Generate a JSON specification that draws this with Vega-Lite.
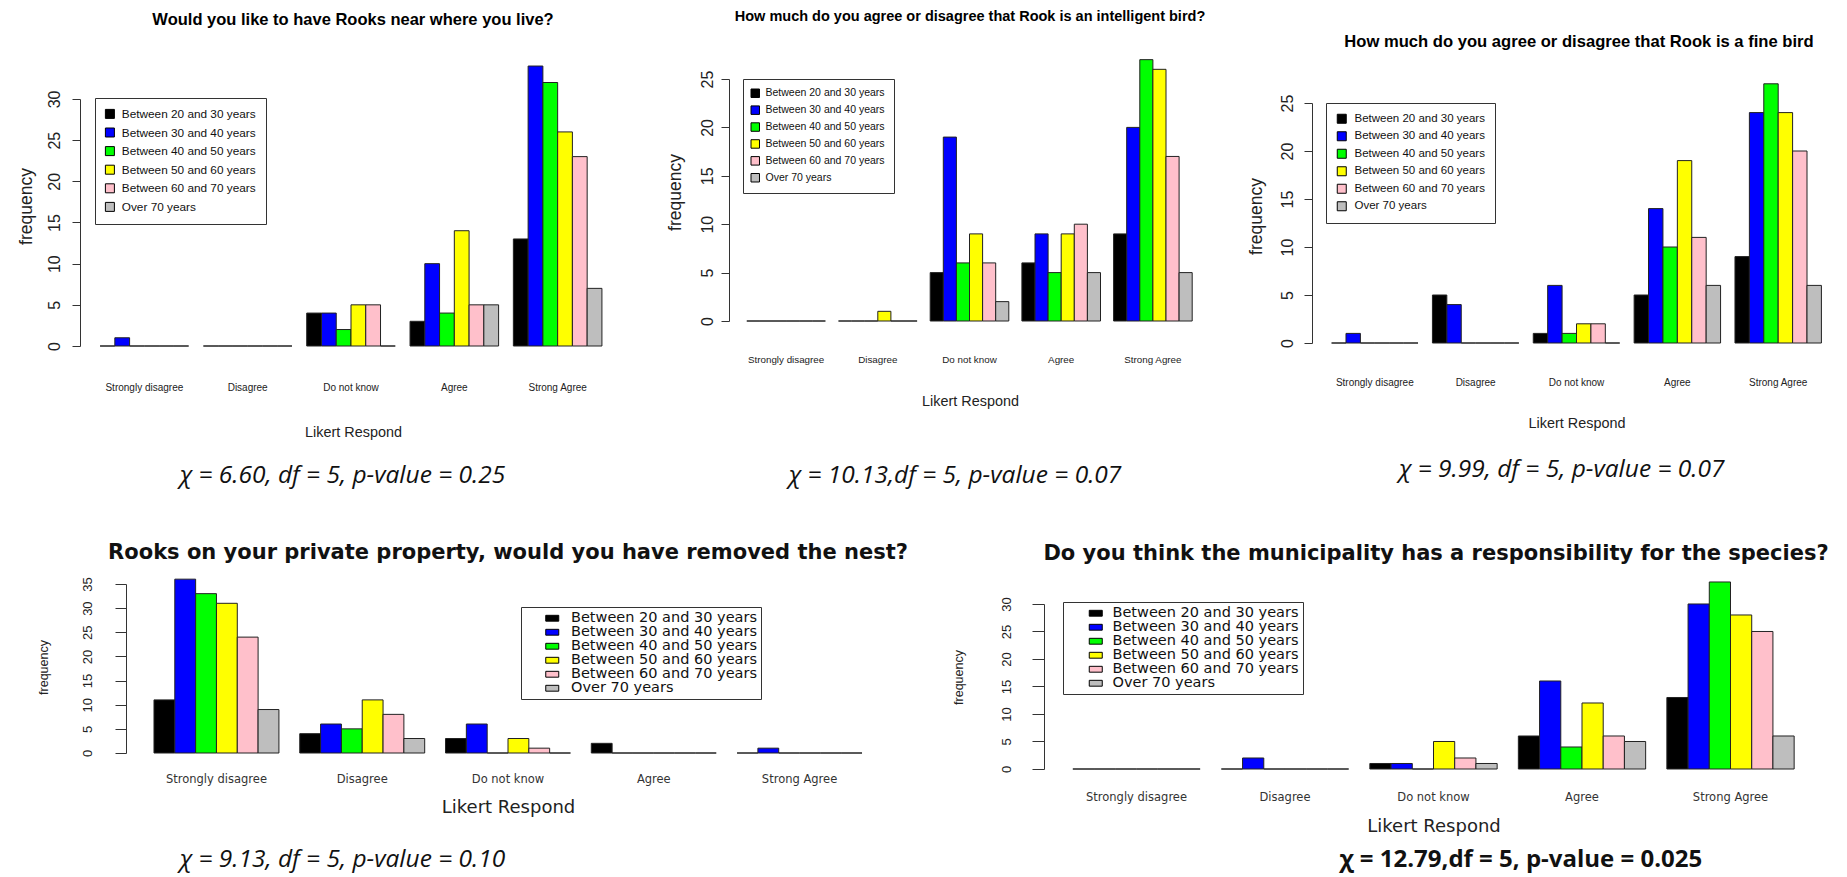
{
"$schema": "https://vega.github.io/schema/vega-lite/v6.json",
"background": "white",
"padding": {"left": 17, "top": 8, "right": 0, "bottom": 4},
"config": {"view": {"stroke": null}, "axis": {"grid": false}},
"datasets": {
"p1": [
{"response":"Strongly disagree","age":"Between 20 and 30 years","count":0},{"response":"Strongly disagree","age":"Between 30 and 40 years","count":1},{"response":"Strongly disagree","age":"Between 40 and 50 years","count":0},{"response":"Strongly disagree","age":"Between 50 and 60 years","count":0},{"response":"Strongly disagree","age":"Between 60 and 70 years","count":0},{"response":"Strongly disagree","age":"Over 70 years","count":0},
{"response":"Disagree","age":"Between 20 and 30 years","count":0},{"response":"Disagree","age":"Between 30 and 40 years","count":0},{"response":"Disagree","age":"Between 40 and 50 years","count":0},{"response":"Disagree","age":"Between 50 and 60 years","count":0},{"response":"Disagree","age":"Between 60 and 70 years","count":0},{"response":"Disagree","age":"Over 70 years","count":0},
{"response":"Do not know","age":"Between 20 and 30 years","count":4},{"response":"Do not know","age":"Between 30 and 40 years","count":4},{"response":"Do not know","age":"Between 40 and 50 years","count":2},{"response":"Do not know","age":"Between 50 and 60 years","count":5},{"response":"Do not know","age":"Between 60 and 70 years","count":5},{"response":"Do not know","age":"Over 70 years","count":0},
{"response":"Agree","age":"Between 20 and 30 years","count":3},{"response":"Agree","age":"Between 30 and 40 years","count":10},{"response":"Agree","age":"Between 40 and 50 years","count":4},{"response":"Agree","age":"Between 50 and 60 years","count":14},{"response":"Agree","age":"Between 60 and 70 years","count":5},{"response":"Agree","age":"Over 70 years","count":5},
{"response":"Strong Agree","age":"Between 20 and 30 years","count":13},{"response":"Strong Agree","age":"Between 30 and 40 years","count":34},{"response":"Strong Agree","age":"Between 40 and 50 years","count":32},{"response":"Strong Agree","age":"Between 50 and 60 years","count":26},{"response":"Strong Agree","age":"Between 60 and 70 years","count":23},{"response":"Strong Agree","age":"Over 70 years","count":7}
],
"p2": [
{"response":"Strongly disagree","age":"Between 20 and 30 years","count":0},{"response":"Strongly disagree","age":"Between 30 and 40 years","count":0},{"response":"Strongly disagree","age":"Between 40 and 50 years","count":0},{"response":"Strongly disagree","age":"Between 50 and 60 years","count":0},{"response":"Strongly disagree","age":"Between 60 and 70 years","count":0},{"response":"Strongly disagree","age":"Over 70 years","count":0},
{"response":"Disagree","age":"Between 20 and 30 years","count":0},{"response":"Disagree","age":"Between 30 and 40 years","count":0},{"response":"Disagree","age":"Between 40 and 50 years","count":0},{"response":"Disagree","age":"Between 50 and 60 years","count":1},{"response":"Disagree","age":"Between 60 and 70 years","count":0},{"response":"Disagree","age":"Over 70 years","count":0},
{"response":"Do not know","age":"Between 20 and 30 years","count":5},{"response":"Do not know","age":"Between 30 and 40 years","count":19},{"response":"Do not know","age":"Between 40 and 50 years","count":6},{"response":"Do not know","age":"Between 50 and 60 years","count":9},{"response":"Do not know","age":"Between 60 and 70 years","count":6},{"response":"Do not know","age":"Over 70 years","count":2},
{"response":"Agree","age":"Between 20 and 30 years","count":6},{"response":"Agree","age":"Between 30 and 40 years","count":9},{"response":"Agree","age":"Between 40 and 50 years","count":5},{"response":"Agree","age":"Between 50 and 60 years","count":9},{"response":"Agree","age":"Between 60 and 70 years","count":10},{"response":"Agree","age":"Over 70 years","count":5},
{"response":"Strong Agree","age":"Between 20 and 30 years","count":9},{"response":"Strong Agree","age":"Between 30 and 40 years","count":20},{"response":"Strong Agree","age":"Between 40 and 50 years","count":27},{"response":"Strong Agree","age":"Between 50 and 60 years","count":26},{"response":"Strong Agree","age":"Between 60 and 70 years","count":17},{"response":"Strong Agree","age":"Over 70 years","count":5}
],
"p3": [
{"response":"Strongly disagree","age":"Between 20 and 30 years","count":0},{"response":"Strongly disagree","age":"Between 30 and 40 years","count":1},{"response":"Strongly disagree","age":"Between 40 and 50 years","count":0},{"response":"Strongly disagree","age":"Between 50 and 60 years","count":0},{"response":"Strongly disagree","age":"Between 60 and 70 years","count":0},{"response":"Strongly disagree","age":"Over 70 years","count":0},
{"response":"Disagree","age":"Between 20 and 30 years","count":5},{"response":"Disagree","age":"Between 30 and 40 years","count":4},{"response":"Disagree","age":"Between 40 and 50 years","count":0},{"response":"Disagree","age":"Between 50 and 60 years","count":0},{"response":"Disagree","age":"Between 60 and 70 years","count":0},{"response":"Disagree","age":"Over 70 years","count":0},
{"response":"Do not know","age":"Between 20 and 30 years","count":1},{"response":"Do not know","age":"Between 30 and 40 years","count":6},{"response":"Do not know","age":"Between 40 and 50 years","count":1},{"response":"Do not know","age":"Between 50 and 60 years","count":2},{"response":"Do not know","age":"Between 60 and 70 years","count":2},{"response":"Do not know","age":"Over 70 years","count":0},
{"response":"Agree","age":"Between 20 and 30 years","count":5},{"response":"Agree","age":"Between 30 and 40 years","count":14},{"response":"Agree","age":"Between 40 and 50 years","count":10},{"response":"Agree","age":"Between 50 and 60 years","count":19},{"response":"Agree","age":"Between 60 and 70 years","count":11},{"response":"Agree","age":"Over 70 years","count":6},
{"response":"Strong Agree","age":"Between 20 and 30 years","count":9},{"response":"Strong Agree","age":"Between 30 and 40 years","count":24},{"response":"Strong Agree","age":"Between 40 and 50 years","count":27},{"response":"Strong Agree","age":"Between 50 and 60 years","count":24},{"response":"Strong Agree","age":"Between 60 and 70 years","count":20},{"response":"Strong Agree","age":"Over 70 years","count":6}
],
"p4": [
{"response":"Strongly disagree","age":"Between 20 and 30 years","count":11},{"response":"Strongly disagree","age":"Between 30 and 40 years","count":36},{"response":"Strongly disagree","age":"Between 40 and 50 years","count":33},{"response":"Strongly disagree","age":"Between 50 and 60 years","count":31},{"response":"Strongly disagree","age":"Between 60 and 70 years","count":24},{"response":"Strongly disagree","age":"Over 70 years","count":9},
{"response":"Disagree","age":"Between 20 and 30 years","count":4},{"response":"Disagree","age":"Between 30 and 40 years","count":6},{"response":"Disagree","age":"Between 40 and 50 years","count":5},{"response":"Disagree","age":"Between 50 and 60 years","count":11},{"response":"Disagree","age":"Between 60 and 70 years","count":8},{"response":"Disagree","age":"Over 70 years","count":3},
{"response":"Do not know","age":"Between 20 and 30 years","count":3},{"response":"Do not know","age":"Between 30 and 40 years","count":6},{"response":"Do not know","age":"Between 40 and 50 years","count":0},{"response":"Do not know","age":"Between 50 and 60 years","count":3},{"response":"Do not know","age":"Between 60 and 70 years","count":1},{"response":"Do not know","age":"Over 70 years","count":0},
{"response":"Agree","age":"Between 20 and 30 years","count":2},{"response":"Agree","age":"Between 30 and 40 years","count":0},{"response":"Agree","age":"Between 40 and 50 years","count":0},{"response":"Agree","age":"Between 50 and 60 years","count":0},{"response":"Agree","age":"Between 60 and 70 years","count":0},{"response":"Agree","age":"Over 70 years","count":0},
{"response":"Strong Agree","age":"Between 20 and 30 years","count":0},{"response":"Strong Agree","age":"Between 30 and 40 years","count":1},{"response":"Strong Agree","age":"Between 40 and 50 years","count":0},{"response":"Strong Agree","age":"Between 50 and 60 years","count":0},{"response":"Strong Agree","age":"Between 60 and 70 years","count":0},{"response":"Strong Agree","age":"Over 70 years","count":0}
],
"p5": [
{"response":"Strongly disagree","age":"Between 20 and 30 years","count":0},{"response":"Strongly disagree","age":"Between 30 and 40 years","count":0},{"response":"Strongly disagree","age":"Between 40 and 50 years","count":0},{"response":"Strongly disagree","age":"Between 50 and 60 years","count":0},{"response":"Strongly disagree","age":"Between 60 and 70 years","count":0},{"response":"Strongly disagree","age":"Over 70 years","count":0},
{"response":"Disagree","age":"Between 20 and 30 years","count":0},{"response":"Disagree","age":"Between 30 and 40 years","count":2},{"response":"Disagree","age":"Between 40 and 50 years","count":0},{"response":"Disagree","age":"Between 50 and 60 years","count":0},{"response":"Disagree","age":"Between 60 and 70 years","count":0},{"response":"Disagree","age":"Over 70 years","count":0},
{"response":"Do not know","age":"Between 20 and 30 years","count":1},{"response":"Do not know","age":"Between 30 and 40 years","count":1},{"response":"Do not know","age":"Between 40 and 50 years","count":0},{"response":"Do not know","age":"Between 50 and 60 years","count":5},{"response":"Do not know","age":"Between 60 and 70 years","count":2},{"response":"Do not know","age":"Over 70 years","count":1},
{"response":"Agree","age":"Between 20 and 30 years","count":6},{"response":"Agree","age":"Between 30 and 40 years","count":16},{"response":"Agree","age":"Between 40 and 50 years","count":4},{"response":"Agree","age":"Between 50 and 60 years","count":12},{"response":"Agree","age":"Between 60 and 70 years","count":6},{"response":"Agree","age":"Over 70 years","count":5},
{"response":"Strong Agree","age":"Between 20 and 30 years","count":13},{"response":"Strong Agree","age":"Between 30 and 40 years","count":30},{"response":"Strong Agree","age":"Between 40 and 50 years","count":34},{"response":"Strong Agree","age":"Between 50 and 60 years","count":28},{"response":"Strong Agree","age":"Between 60 and 70 years","count":25},{"response":"Strong Agree","age":"Over 70 years","count":6}
]
},
"spacing": 53,
"resolve": {"scale": {"color": "independent", "x": "independent", "y": "independent", "xOffset": "independent"}, "legend": {"color": "independent"}},
"vconcat": [
{
"hconcat": [
{
"title": {"text": "χ = 6.60, df = 5, p-value = 0.25", "orient": "bottom", "anchor": "middle", "dx": 14, "offset": 25.5, "font": "Open Sans", "fontSize": 24.5, "fontStyle": "italic", "fontWeight": "normal", "color": "#111"},
"resolve": {"scale": {"color": "independent", "x": "independent", "y": "independent", "xOffset": "independent"}, "legend": {"color": "independent"}},
"vconcat": [{
"width": 560, "height": 291,
"title": {"text": "Would you like to have Rooks near where you live?", "frame": "group", "anchor": "middle", "dx": -7, "offset": 26.75, "font": "Liberation Sans", "fontSize": 16.5, "fontWeight": "bold", "color": "#000"},
"data": {"name": "p1"},
"mark": {"type": "bar", "stroke": "#222", "strokeWidth": 1},
"encoding": {
"x": {"field": "response", "type": "nominal", "sort": ["Strongly disagree","Disagree","Do not know","Agree","Strong Agree"], "scale": {"paddingInner": 0.142857, "paddingOuter": 0.2814, "align": 0.3452},
"axis": {"title": "Likert Respond", "labelAngle": 0, "domain": false, "ticks": false, "tickSize": 0, "labelPadding": 41, "labelBaseline": "middle", "labelFont": "Liberation Sans", "labelFontSize": 10, "labelColor": "#222", "titleFont": "Liberation Sans", "titleFontSize": 14.4, "titleFontWeight": "normal", "titleColor": "#222", "titleX": 273, "titleY": 86, "titleBaseline": "middle", "titleAlign": "center"}},
"xOffset": {"field": "age", "type": "nominal", "sort": ["Between 20 and 30 years","Between 30 and 40 years","Between 40 and 50 years","Between 50 and 60 years","Between 60 and 70 years","Over 70 years"], "scale": {"paddingInner": 0, "paddingOuter": 0}},
"y": {"field": "count", "type": "quantitative", "stack": null, "scale": {"domain": [0, 35.34], "nice": false},
"axis": {"title": "frequency", "values": [0,5,10,15,20,25,30], "grid": false, "domainDash": [247, 1000], "domainColor": "#333", "tickColor": "#333", "tickSize": 8, "labelAngle": -90, "labelAlign": "center", "labelBaseline": "middle", "labelPadding": 18, "labelFont": "Liberation Sans", "labelFontSize": 16, "labelColor": "#222", "labelOverlap": false, "labelFlush": false, "titleFont": "Liberation Sans", "titleFontSize": 17.5, "titleFontWeight": "normal", "titleColor": "#222", "titleAngle": -90, "titleX": -54, "titleY": 151, "titleBaseline": "middle", "titleAlign": "center"}},
"color": {"field": "age", "type": "nominal", "scale": {"domain": ["Between 20 and 30 years","Between 30 and 40 years","Between 40 and 50 years","Between 50 and 60 years","Between 60 and 70 years","Over 70 years"], "range": ["#000000","#0000FF","#00FF00","#FFFF00","#FFC0CB","#BEBEBE"]},
"legend": {"title": null, "orient": "none", "legendX": 15, "legendY": 43, "labelFont": "Liberation Sans", "labelFontSize": 11.8, "labelColor": "#111", "labelLimit": 0, "symbolType": "square", "symbolSize": 81, "symbolStrokeColor": "#000", "symbolStrokeWidth": 1, "strokeColor": "#333", "fillColor": "white", "padding": 10, "rowPadding": 4.6, "symbolOffset": -1, "labelOffset": 6}}
}
}]
},
{
"title": {"text": "χ = 10.13,df = 5, p-value = 0.07", "orient": "bottom", "anchor": "middle", "dx": 11.5, "offset": 56.5, "font": "Open Sans", "fontSize": 24.5, "fontStyle": "italic", "fontWeight": "normal", "color": "#111"},
"resolve": {"scale": {"color": "independent", "x": "independent", "y": "independent", "xOffset": "independent"}, "legend": {"color": "independent"}},
"vconcat": [{
"width": 492, "height": 266,
"title": {"text": "How much do you agree or disagree that Rook is an intelligent bird?", "frame": "group", "anchor": "middle", "dx": -5, "offset": 30.75, "font": "Liberation Sans", "fontSize": 14.5, "fontWeight": "bold", "color": "#000"},
"data": {"name": "p2"},
"mark": {"type": "bar", "stroke": "#222", "strokeWidth": 1},
"encoding": {
"x": {"field": "response", "type": "nominal", "sort": ["Strongly disagree","Disagree","Do not know","Agree","Strong Agree"], "scale": {"paddingInner": 0.142857, "paddingOuter": 0.2541, "align": 0.382},
"axis": {"title": "Likert Respond", "labelAngle": 0, "domain": false, "ticks": false, "tickSize": 0, "labelPadding": 38, "labelBaseline": "middle", "labelFont": "Liberation Sans", "labelFontSize": 9.8, "labelColor": "#222", "titleFont": "Liberation Sans", "titleFontSize": 14.4, "titleFontWeight": "normal", "titleColor": "#222", "titleX": 241, "titleY": 80, "titleBaseline": "middle", "titleAlign": "center"}},
"xOffset": {"field": "age", "type": "nominal", "sort": ["Between 20 and 30 years","Between 30 and 40 years","Between 40 and 50 years","Between 50 and 60 years","Between 60 and 70 years","Over 70 years"], "scale": {"paddingInner": 0, "paddingOuter": 0}},
"y": {"field": "count", "type": "quantitative", "stack": null, "scale": {"domain": [0, 27.48], "nice": false},
"axis": {"title": "frequency", "values": [0,5,10,15,20,25], "grid": false, "domainDash": [242, 1000], "domainColor": "#333", "tickColor": "#333", "tickSize": 8, "labelAngle": -90, "labelAlign": "center", "labelBaseline": "middle", "labelPadding": 14, "labelFont": "Liberation Sans", "labelFontSize": 16, "labelColor": "#222", "labelOverlap": false, "labelFlush": false, "titleFont": "Liberation Sans", "titleFontSize": 17.5, "titleFontWeight": "normal", "titleColor": "#222", "titleAngle": -90, "titleX": -54, "titleY": 137, "titleBaseline": "middle", "titleAlign": "center"}},
"color": {"field": "age", "type": "nominal", "scale": {"domain": ["Between 20 and 30 years","Between 30 and 40 years","Between 40 and 50 years","Between 50 and 60 years","Between 60 and 70 years","Over 70 years"], "range": ["#000000","#0000FF","#00FF00","#FFFF00","#FFC0CB","#BEBEBE"]},
"legend": {"title": null, "orient": "none", "legendX": 14, "legendY": 24, "labelFont": "Liberation Sans", "labelFontSize": 10.5, "labelColor": "#111", "labelLimit": 0, "symbolType": "square", "symbolSize": 72, "symbolStrokeColor": "#000", "symbolStrokeWidth": 1, "strokeColor": "#333", "fillColor": "white", "padding": 9, "rowPadding": 3.9, "symbolOffset": -2, "labelOffset": 5}}
}
}]
},
{
"title": {"text": "χ = 9.99, df = 5, p-value = 0.07", "orient": "bottom", "anchor": "middle", "dx": 17.75, "offset": 28.5, "font": "Open Sans", "fontSize": 24.5, "fontStyle": "italic", "fontWeight": "normal", "color": "#111"},
"resolve": {"scale": {"color": "independent", "x": "independent", "y": "independent", "xOffset": "independent"}, "legend": {"color": "independent"}},
"vconcat": [{
"width": 529, "height": 288,
"title": {"text": "How much do you agree or disagree that Rook is a fine bird", "frame": "group", "anchor": "middle", "dx": 2.5, "offset": 4.7, "font": "Liberation Sans", "fontSize": 16.6, "fontWeight": "bold", "color": "#000"},
"data": {"name": "p3"},
"mark": {"type": "bar", "stroke": "#222", "strokeWidth": 1},
"encoding": {
"x": {"field": "response", "type": "nominal", "sort": ["Strongly disagree","Disagree","Do not know","Agree","Strong Agree"], "scale": {"paddingInner": 0.142857, "paddingOuter": 0.194286},
"axis": {"title": "Likert Respond", "labelAngle": 0, "domain": false, "ticks": false, "tickSize": 0, "labelPadding": 39, "labelBaseline": "middle", "labelFont": "Liberation Sans", "labelFontSize": 10, "labelColor": "#222", "titleFont": "Liberation Sans", "titleFontSize": 14.4, "titleFontWeight": "normal", "titleColor": "#222", "titleY": 80, "titleBaseline": "middle"}},
"xOffset": {"field": "age", "type": "nominal", "sort": ["Between 20 and 30 years","Between 30 and 40 years","Between 40 and 50 years","Between 50 and 60 years","Between 60 and 70 years","Over 70 years"], "scale": {"paddingInner": 0, "paddingOuter": 0}},
"y": {"field": "count", "type": "quantitative", "stack": null, "scale": {"domain": [0, 30], "nice": false},
"axis": {"title": "frequency", "values": [0,5,10,15,20,25], "grid": false, "domainDash": [240, 1000], "domainColor": "#333", "tickColor": "#333", "tickSize": 8, "labelAngle": -90, "labelAlign": "center", "labelBaseline": "middle", "labelPadding": 17, "labelFont": "Liberation Sans", "labelFontSize": 16, "labelColor": "#222", "labelOverlap": false, "labelFlush": false, "titleFont": "Liberation Sans", "titleFontSize": 17.5, "titleFontWeight": "normal", "titleColor": "#222", "titleAngle": -90, "titleX": -56, "titleY": 161, "titleBaseline": "middle", "titleAlign": "center"}},
"color": {"field": "age", "type": "nominal", "scale": {"domain": ["Between 20 and 30 years","Between 30 and 40 years","Between 40 and 50 years","Between 50 and 60 years","Between 60 and 70 years","Over 70 years"], "range": ["#000000","#0000FF","#00FF00","#FFFF00","#FFC0CB","#BEBEBE"]},
"legend": {"title": null, "orient": "none", "legendX": 14, "legendY": 48, "labelFont": "Liberation Sans", "labelFontSize": 11.5, "labelColor": "#111", "labelLimit": 0, "symbolType": "square", "symbolSize": 81, "symbolStrokeColor": "#000", "symbolStrokeWidth": 1, "strokeColor": "#333", "fillColor": "white", "padding": 10, "rowPadding": 3.5, "symbolOffset": 0, "labelOffset": 7}}
}
}]
}
],
"spacing": 26,
"resolve": {"scale": {"color": "independent", "x": "independent", "y": "independent", "xOffset": "independent"}, "legend": {"color": "independent"}}
},
{
"hconcat": [
{
"title": {"text": "χ = 9.13, df = 5, p-value = 0.10", "orient": "bottom", "anchor": "middle", "dx": -130, "offset": 32, "font": "Open Sans", "fontSize": 24.5, "fontStyle": "italic", "fontWeight": "normal", "color": "#111"},
"resolve": {"scale": {"color": "independent", "x": "independent", "y": "independent", "xOffset": "independent"}, "legend": {"color": "independent"}},
"vconcat": [{
"width": 828, "height": 179,
"title": {"text": "Rooks on your private property, would you have removed the nest?", "frame": "group", "anchor": "middle", "dx": 14, "offset": 11.5, "font": "DejaVu Sans", "fontSize": 21, "fontWeight": "bold", "color": "#111"},
"data": {"name": "p4"},
"mark": {"type": "bar", "stroke": "#222", "strokeWidth": 1},
"encoding": {
"x": {"field": "response", "type": "nominal", "sort": ["Strongly disagree","Disagree","Do not know","Agree","Strong Agree"], "scale": {"paddingInner": 0.142857, "paddingOuter": 0.4115, "align": 0.6167},
"axis": {"title": "Likert Respond", "labelAngle": 0, "domain": false, "ticks": false, "tickSize": 0, "labelPadding": 26, "labelBaseline": "middle", "labelFont": "DejaVu Sans", "labelFontSize": 11.5, "labelColor": "#333", "titleFont": "DejaVu Sans", "titleFontSize": 18, "titleFontWeight": "normal", "titleColor": "#222", "titleX": 428, "titleY": 54, "titleBaseline": "middle", "titleAlign": "center"}},
"xOffset": {"field": "age", "type": "nominal", "sort": ["Between 20 and 30 years","Between 30 and 40 years","Between 40 and 50 years","Between 50 and 60 years","Between 60 and 70 years","Over 70 years"], "scale": {"paddingInner": 0, "paddingOuter": 0}},
"y": {"field": "count", "type": "quantitative", "stack": null, "scale": {"domain": [0, 37.07], "nice": false},
"axis": {"title": "frequency", "offset": -46, "values": [0,5,10,15,20,25,30,35], "grid": false, "domainDash": [169, 1000], "domainColor": "#333", "tickColor": "#333", "tickSize": 11, "labelAngle": -90, "labelAlign": "center", "labelBaseline": "middle", "labelPadding": 28, "labelFont": "Liberation Sans", "labelFontSize": 13, "labelColor": "#222", "labelOverlap": false, "labelFlush": false, "titleFont": "Liberation Sans", "titleFontSize": 12.5, "titleFontWeight": "normal", "titleColor": "#222", "titleAngle": -90, "titleX": -83, "titleY": 93, "titleBaseline": "middle", "titleAlign": "center"}},
"color": {"field": "age", "type": "nominal", "scale": {"domain": ["Between 20 and 30 years","Between 30 and 40 years","Between 40 and 50 years","Between 50 and 60 years","Between 60 and 70 years","Over 70 years"], "range": ["#000000","#0000FF","#00FF00","#FFFF00","#FFC0CB","#BEBEBE"]},
"legend": {"title": null, "orient": "none", "legendX": 441, "legendY": 33, "labelFont": "DejaVu Sans", "labelFontSize": 14.5, "labelColor": "#111", "labelLimit": 0, "symbolType": "M-1,-0.45H1V0.45H-1Z", "symbolSize": 36, "symbolStrokeColor": "#000", "symbolStrokeWidth": 1, "strokeColor": "#333", "fillColor": "white", "padding": 4, "rowPadding": -6, "symbolOffset": 20, "labelOffset": 11.5,
"encode": {"symbols": {"update": {"size": {"value": 169}}}}}}
}
}]
},
{
"title": {"text": "χ = 12.79,df = 5, p-value = 0.025", "orient": "bottom", "anchor": "middle", "dx": 130.5, "offset": 13, "font": "Open Sans", "fontSize": 24, "fontStyle": "normal", "fontWeight": "bold", "color": "#111"},
"resolve": {"scale": {"color": "independent", "x": "independent", "y": "independent", "xOffset": "independent"}, "legend": {"color": "independent"}},
"vconcat": [{
"width": 779, "height": 195,
"title": {"text": "Do you think the municipality has a responsibility for the species?", "frame": "group", "anchor": "middle", "dx": 2.5, "offset": 10, "font": "DejaVu Sans", "fontSize": 21, "fontWeight": "bold", "color": "#111"},
"data": {"name": "p5"},
"mark": {"type": "bar", "stroke": "#222", "strokeWidth": 1},
"encoding": {
"x": {"field": "response", "type": "nominal", "sort": ["Strongly disagree","Disagree","Do not know","Agree","Strong Agree"], "scale": {"paddingInner": 0.142857, "paddingOuter": 0.194286},
"axis": {"title": "Likert Respond", "labelAngle": 0, "domain": false, "ticks": false, "tickSize": 0, "labelPadding": 28, "labelBaseline": "middle", "labelFont": "DejaVu Sans", "labelFontSize": 11.5, "labelColor": "#333", "titleFont": "DejaVu Sans", "titleFontSize": 18, "titleFontWeight": "normal", "titleColor": "#222", "titleY": 57, "titleBaseline": "middle"}},
"xOffset": {"field": "age", "type": "nominal", "sort": ["Between 20 and 30 years","Between 30 and 40 years","Between 40 and 50 years","Between 50 and 60 years","Between 60 and 70 years","Over 70 years"], "scale": {"paddingInner": 0, "paddingOuter": 0}},
"y": {"field": "count", "type": "quantitative", "stack": null, "scale": {"domain": [0, 35.45], "nice": false},
"axis": {"title": "frequency", "values": [0,5,10,15,20,25,30], "grid": false, "domainDash": [165, 1000], "domainColor": "#333", "tickColor": "#333", "tickSize": 12, "labelAngle": -90, "labelAlign": "center", "labelBaseline": "middle", "labelPadding": 26, "labelFont": "Liberation Sans", "labelFontSize": 13, "labelColor": "#222", "labelOverlap": false, "labelFlush": false, "titleFont": "Liberation Sans", "titleFontSize": 12.5, "titleFontWeight": "normal", "titleColor": "#222", "titleAngle": -90, "titleX": -86, "titleY": 103, "titleBaseline": "middle", "titleAlign": "center"}},
"color": {"field": "age", "type": "nominal", "scale": {"domain": ["Between 20 and 30 years","Between 30 and 40 years","Between 40 and 50 years","Between 50 and 60 years","Between 60 and 70 years","Over 70 years"], "range": ["#000000","#0000FF","#00FF00","#FFFF00","#FFC0CB","#BEBEBE"]},
"legend": {"title": null, "orient": "none", "legendX": 19, "legendY": 28, "labelFont": "DejaVu Sans", "labelFontSize": 14.5, "labelColor": "#111", "labelLimit": 0, "symbolType": "M-1,-0.45H1V0.45H-1Z", "symbolSize": 49, "symbolStrokeColor": "#000", "symbolStrokeWidth": 1, "strokeColor": "#333", "fillColor": "white", "padding": 4, "rowPadding": -6, "symbolOffset": 21.5, "labelOffset": 9.5,
"encode": {"symbols": {"update": {"size": {"value": 169}}}}}}
}
}]
}
],
"spacing": 44,
"resolve": {"scale": {"color": "independent", "x": "independent", "y": "independent", "xOffset": "independent"}, "legend": {"color": "independent"}}
}
]
}
